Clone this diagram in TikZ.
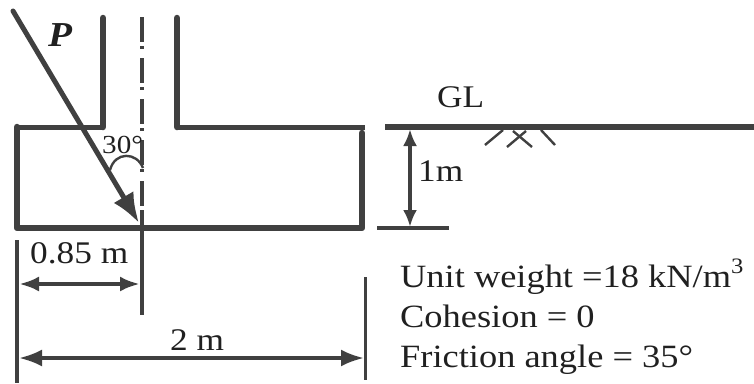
\documentclass[tikz,border=0pt]{standalone}
\usepackage{fontspec}
\setmainfont[FakeStretch=1.12]{Liberation Serif}
\usetikzlibrary{arrows.meta}
\definecolor{ink}{HTML}{404040}
\definecolor{txt}{HTML}{202020}
\tikzset{
  x=1pt,y=-1pt,
  wall/.style={draw=ink,line width=6.5pt,line cap=round,line join=round},
  topline/.style={draw=ink,line width=5pt},
  thin line/.style={draw=ink,line width=3.6pt},
  hair/.style={draw=ink,line width=2.4pt},
  dim/.style={draw=ink,line width=3.6pt,{Latex[length=23pt,width=17pt]}-{Latex[length=23pt,width=17pt]}},
  dimshort/.style={draw=ink,line width=4.5pt,{Latex[length=20pt,width=15pt]}-{Latex[length=20pt,width=15pt]}},
  dimv/.style={draw=ink,line width=3.6pt,{Latex[length=17pt,width=14pt]}-{Latex[length=17pt,width=14pt]}},
  lab/.style={inner sep=0pt,text=txt,font=\fontsize{31.5}{36}\selectfont,anchor=base west},
  prop/.style={lab,font=\fontsize{32.5}{36}\selectfont},
}
\begin{document}
\begin{tikzpicture}
\useasboundingbox (0,0) rectangle (754,383);
% coordinates
\coordinate (sl0) at (103,18); \coordinate (sl1) at (103,127); \coordinate (tl) at (17,127);
\coordinate (bl) at (17,228); \coordinate (br) at (362,228); \coordinate (tr) at (365,127);
\coordinate (sr0) at (177,18); \coordinate (sr1) at (177,127); \coordinate (trr) at (362,133);
\coordinate (c0) at (142,17); \coordinate (c1) at (142,210); \coordinate (c2) at (142,315);
\coordinate (p0) at (13,11); \coordinate (p1) at (139,223);
\coordinate (e1) at (17,240); \coordinate (e2) at (17,383);
\coordinate (e3) at (365.5,277); \coordinate (e4) at (365.5,380);
\coordinate (d1a) at (19,284); \coordinate (d1b) at (140,284);
\coordinate (d2a) at (19,358); \coordinate (d2b) at (364,358);
\coordinate (g0) at (385,127); \coordinate (g1) at (754,127);
\coordinate (h0) at (377,228); \coordinate (h1) at (449,228);
\coordinate (m0) at (410,129); \coordinate (m1) at (410,227);
% footing and stem
\draw[wall] (tl) -- (bl) -- (br) -- (trr);
\draw[topline] (tl) -- (sl1);
\draw[wall] (sl1) -- (sl0);
\draw[topline] (tr) -- (sr1);
\draw[wall] (sr1) -- (sr0);
% centre line
\draw[draw=ink,line width=3.6pt,dash pattern=on 25pt off 4pt on 3pt off 9pt] (c0) -- (c1);
\draw[thin line] (c1) -- (c2);
% load
\draw[draw=ink,line width=5pt,line cap=round,-{Latex[length=30pt,width=23pt]}] (p0) -- (p1);
\draw[hair] (110,170) .. controls (115,151) and (137,152) .. (143,168);
\node[lab,font=\fontsize{35}{38}\selectfont\bfseries\itshape] (P) at (48,46) {P};
\node[lab,font=\fontsize{26}{28}\selectfont] (ang) at (102,153) {30°};
% dimensions
\draw[thin line] (e1) -- (e2);
\draw[thin line] (e3) -- (e4);
\draw[dimshort] (d1a) -- (d1b);
\draw[dim] (d2a) -- (d2b);
\node[lab] (a) at (30,263) {0.85 m};
\node[lab] (b) at (170,350) {2 m};
% ground
\draw[draw=ink,line width=5.5pt] (g0) -- (g1);
\draw[thin line] (h0) -- (h1);
\draw[dimv] (m0) -- (m1);
\node[lab] (gl) at (437,107) {GL};
\node[lab] (m) at (418,181) {1m};
\draw[hair] (485,145) -- (503,130);
\draw[hair] (507,147) -- (526,131);
\draw[hair] (513,131) -- (532,147);
\draw[hair] (541,130) -- (555,145);
% properties
\node[prop] (u) at (400,287) {Unit weight =18 kN/m\raisebox{0.42em}{\fontsize{22}{22}\selectfont 3}};
\node[prop] (c) at (400,327) {Cohesion = 0};
\node[prop] (f) at (400,367) {Friction angle = 35°};
\end{tikzpicture}
\end{document}
